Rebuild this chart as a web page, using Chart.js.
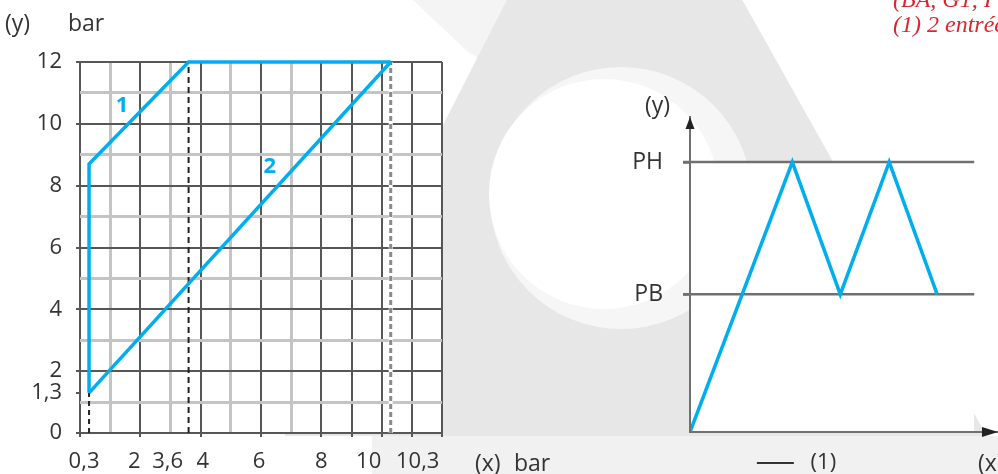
<!DOCTYPE html>
<html>
<head>
<meta charset="utf-8">
<script src="https://cdn.jsdelivr.net/npm/chart.js@4.4.1/dist/chart.umd.min.js"></script>
<style>
html, body { margin: 0; padding: 0; background: #fff; overflow: hidden; }
#wrap { position: relative; width: 998px; height: 474px; overflow: hidden; font-family: "Open Sans", sans-serif; color: #333; }
#bg { position: absolute; left: 0; top: 0; }
#left { position: absolute; left: 0; top: 0; }
#right { position: absolute; left: 560px; top: 0; }
.t { position: absolute; font-size: 23px; line-height: 24px; white-space: nowrap; }
.red { position: absolute; font-family: "Liberation Serif", serif; font-style: italic; color: #d7282f; font-size: 24px; line-height: 24px; white-space: nowrap; }
</style>
</head>
<body>
<div id="wrap">
  <svg id="bg" width="998" height="474">
    <defs><clipPath id="top436"><rect x="0" y="0" width="998" height="436"/></clipPath></defs>
    <polygon points="413,0 507,0 478,58 468,52" fill="#f4f4f4"/>
    <polygon points="619,-220 1008,474 265,474" fill="#e7e7e7" clip-path="url(#top436)"/>
    <circle cx="621" cy="198" r="131" fill="#f6f6f6"/>
    <circle cx="604" cy="194" r="115" fill="#fff"/>
    <rect x="372" y="436" width="626" height="38" fill="#f1f1f1"/>
  </svg>
  <canvas id="left" width="560" height="474"></canvas>
  <canvas id="right" width="438" height="474"></canvas>
  <div class="t" style="left:5px;top:10px">(y)</div>
  <div class="t" style="left:68px;top:10px">bar</div>
  <div class="t" style="left:475px;top:450px">(x)</div>
  <div class="t" style="left:514px;top:450px">bar</div>
  <div class="t" style="left:645px;top:92px">(y)</div>
  <div class="t" style="left:978px;top:450px">(x)</div>
  <div class="red" style="left:893px;top:-13px">(BA, G1, I</div>
  <div class="red" style="left:893px;top:12px">(1) 2 entrées</div>
</div>
<script>
// left chart: pressure lines 1 and 2 (bar)
const line1X = [0.3, 0.3, 3.6, 10.3];
const line1Y = [1.3, 8.7, 12, 12];
const line2X = [0.3, 10.3];
const line2Y = [1.3, 12];
const guideX = [0.3, 3.6, 10.3];
const guideTop = [1.3, 12, 12];
const xTickValues = [0.3, 2, 3.6, 4, 6, 8, 10, 10.3];
const xTickLabels = ['0,3', '2', '3,6', '4', '6', '8', '10', '10,3'];
const yTickValues = [0, 1.3, 2, 4, 6, 8, 10, 12];
const yTickLabels = ['0', '1,3', '2', '4', '6', '8', '10', '12'];
const seriesNames = ['1', '2'];
const seriesNameX = [1.39, 6.29];
const seriesNameY = [10.6, 8.6];

// right chart: cycle between PB and PH
const cycleX = [0, 2.07, 3.04, 4.03, 5.0];
const cycleY = [0, 10, 5.1, 10, 5.1];
const cycleName = '(1)';
const levelNames = ['PH', 'PB'];
const levelValues = [10, 5.1];
const levelFrom = -0.14;
const levelTo = 5.75;

const blue = '#00aeef';
const dark = '#575757';
const light = '#c4c4c4';
const axisGrey = '#707070';
const font = { family: 'Open Sans', size: 22 };
const xLabelShift = [-5, -6, -21, 2, -2, 0, -13, 27];

const pts = (xs, ys) => xs.map((x, i) => ({ x: x, y: ys[i] }));
const range = (a, b) => { const r = []; for (let v = a; v <= b; v++) r.push(v); return r; };

const gridX = range(0, 12);
const gridY = range(0, 12).concat([1.3]).sort((a, b) => a - b);
const isOdd = v => Number.isInteger(v) && v % 2 === 1;

const guideStyles = [
  { color: '#222', width: 2, dash: [5, 4] },
  { color: '#222', width: 2, dash: [6, 4] },
  { color: '#8a8a8a', width: 3, dash: [5, 3] }
];

const guides = [];
guideX.forEach((gx, i) => {
  const st = guideStyles[i];
  guides.push({ data: pts([gx, gx], [0, guideTop[i]]), borderColor: st.color, borderWidth: st.width, borderDash: st.dash, pointRadius: 0, fill: false });
});
// white under the light dashed line
guides.push({ data: pts([guideX[2], guideX[2]], [0, guideTop[2]]), borderColor: '#fff', borderWidth: 4, pointRadius: 0, fill: false });

const leftPlugin = {
  id: 'leftDeco',
  beforeDraw(chart) {
    const { ctx, chartArea: a } = chart;
    ctx.save();
    ctx.fillStyle = '#fff';
    ctx.fillRect(a.left, a.top, a.right - a.left, a.bottom - a.top);
    ctx.restore();
  },
  afterDraw(chart) {
    const { ctx, chartArea: a, scales: { x, y } } = chart;
    ctx.save();
    ctx.font = '22px "Open Sans"';
    ctx.fillStyle = '#333';
    ctx.textAlign = 'center';
    ctx.textBaseline = 'middle';
    xTickValues.forEach((v, i) => {
      ctx.fillText(xTickLabels[i], x.getPixelForValue(v) + xLabelShift[i], a.bottom + 29);
    });
    ctx.font = 'bold 22px "Open Sans"';
    ctx.fillStyle = blue;
    seriesNames.forEach((s, i) => {
      ctx.fillText(s, x.getPixelForValue(seriesNameX[i]), y.getPixelForValue(seriesNameY[i]));
    });
    ctx.restore();
  }
};

new Chart(document.getElementById('left'), {
  type: 'line',
  data: {
    datasets: [
      { label: seriesNames[0], data: pts(line1X, line1Y), borderColor: blue, borderWidth: 3.5, pointRadius: 0, fill: false, clip: false },
      { label: seriesNames[1], data: pts(line2X, line2Y), borderColor: blue, borderWidth: 3.5, pointRadius: 0, fill: false, clip: false }
    ].concat(guides)
  },
  options: {
    responsive: false,
    animation: false,
    layout: { padding: { top: 62, right: 118, left: 0, bottom: 0 } },
    plugins: { legend: { display: false }, tooltip: { enabled: false } },
    scales: {
      x: {
        type: 'linear', min: 0, max: 12,
        afterBuildTicks: s => { s.ticks = gridX.map(v => ({ value: v })); },
        afterFit: s => { s.height = 41; },
        ticks: { display: false },
        border: { display: false },
        grid: {
          color: c => (isOdd(c.tick.value) && c.tick.value < 8) ? light : dark,
          lineWidth: c => (isOdd(c.tick.value) && c.tick.value < 8) ? 3 : 2,
          tickColor: c => (isOdd(c.tick.value) && c.tick.value < 8) ? 'rgba(0,0,0,0)' : dark,
          tickLength: 4
        }
      },
      y: {
        type: 'linear', min: 0, max: 12,
        afterBuildTicks: s => { s.ticks = gridY.map(v => ({ value: v })); },
        afterFit: s => { s.width = 80; },
        border: { display: false },
        ticks: {
          autoSkip: false, padding: 14, color: '#333', font: font,
          callback: v => { const i = yTickValues.indexOf(v); return i < 0 ? '' : yTickLabels[i]; }
        },
        grid: {
          color: c => c.tick.value === 1.3 ? 'rgba(0,0,0,0)' : (isOdd(c.tick.value) ? light : dark),
          lineWidth: c => isOdd(c.tick.value) ? 3 : 2,
          tickColor: c => isOdd(c.tick.value) ? 'rgba(0,0,0,0)' : dark,
          tickLength: 4
        }
      }
    }
  },
  plugins: [leftPlugin]
});

const arrowPlugin = {
  id: 'arrows',
  afterDraw(chart) {
    const { ctx, chartArea: a } = chart;
    ctx.save();
    ctx.fillStyle = '#222';
    ctx.beginPath();
    ctx.moveTo(a.left, a.top);
    ctx.lineTo(a.left - 4.5, a.top + 12);
    ctx.lineTo(a.left + 4.5, a.top + 12);
    ctx.closePath();
    ctx.fill();
    ctx.beginPath();
    ctx.moveTo(a.right + 1, a.bottom);
    ctx.lineTo(a.right - 15, a.bottom - 5);
    ctx.lineTo(a.right - 15, a.bottom + 5);
    ctx.closePath();
    ctx.fill();
    ctx.restore();
  }
};

new Chart(document.getElementById('right'), {
  type: 'line',
  data: {
    datasets: [
      { label: cycleName, data: pts(cycleX, cycleY), borderColor: blue, borderWidth: 3.5, pointRadius: 0, fill: false },
      { label: levelNames[1], data: pts([levelFrom, levelTo], [levelValues[1], levelValues[1]]), borderColor: axisGrey, borderWidth: 2.5, pointRadius: 0, fill: false, clip: false },
      { label: levelNames[0], data: pts([levelFrom, levelTo], [levelValues[0], levelValues[0]]), borderColor: axisGrey, borderWidth: 2.5, pointRadius: 0, fill: 'origin', backgroundColor: '#fff', clip: false }
    ]
  },
  options: {
    responsive: false,
    animation: false,
    layout: { padding: { top: 117, right: 1, left: 36, bottom: -10 } },
    plugins: {
      tooltip: { enabled: false },
      legend: {
        position: 'bottom',
        labels: {
          color: '#333', font: { family: 'Open Sans', size: 22 }, padding: 2,
          usePointStyle: true, pointStyleWidth: 37,
          generateLabels: chart => [{
            text: ' ' + cycleName, datasetIndex: 0, pointStyle: 'line',
            strokeStyle: '#333', fillStyle: '#333', lineWidth: 2, fontColor: '#333'
          }]
        }
      }
    },
    scales: {
      x: {
        type: 'linear', min: 0, max: 6.21,
        afterFit: s => { s.height = 18; },
        ticks: { display: false },
        grid: { display: false },
        border: { display: true, color: axisGrey, width: 2, z: 1 }
      },
      y: {
        type: 'linear', min: 0, max: 11.67,
        afterBuildTicks: s => { s.ticks = levelValues.map(v => ({ value: v })); },
        afterFit: s => { s.width = 94; },
        ticks: {
          autoSkip: false, padding: 20, color: '#333', font: { family: 'Open Sans', size: 23 },
          callback: v => levelNames[levelValues.indexOf(v)]
        },
        grid: { drawOnChartArea: false, tickLength: 7, tickColor: axisGrey, tickWidth: 2.5, color: axisGrey },
        border: { display: true, color: axisGrey, width: 2, z: 1 }
      }
    }
  },
  plugins: [arrowPlugin]
});
</script>
</body>
</html>
